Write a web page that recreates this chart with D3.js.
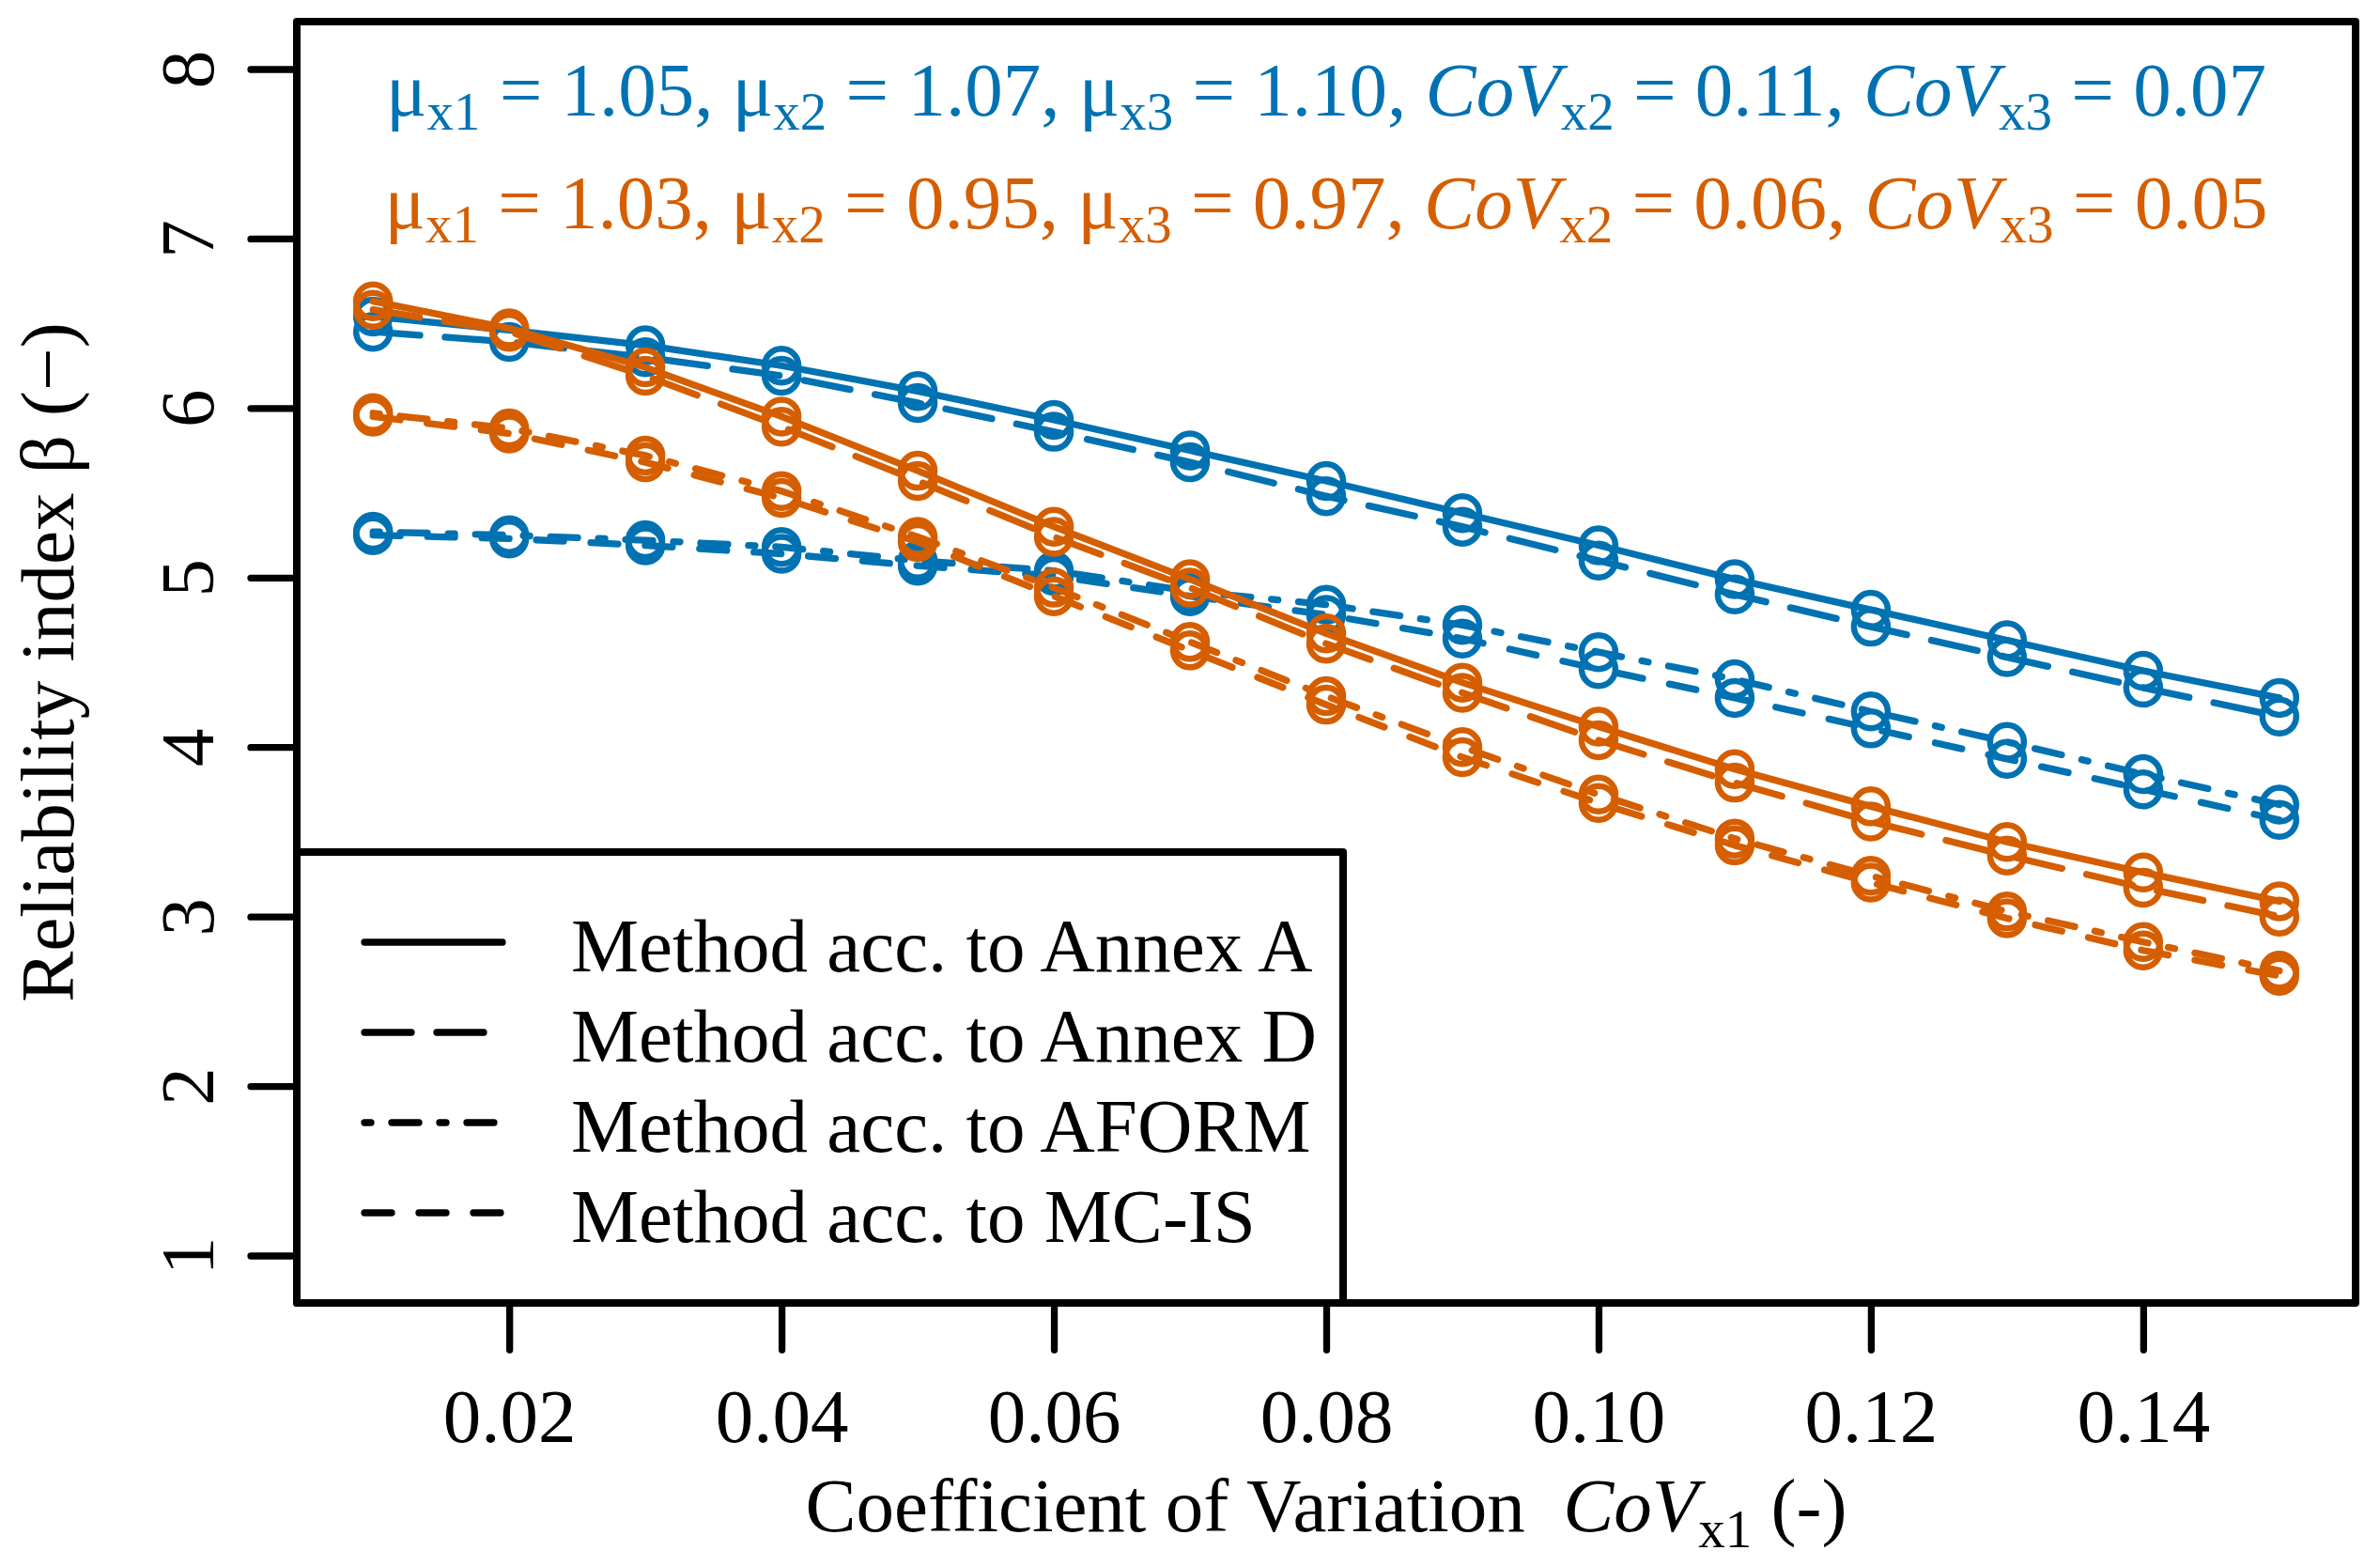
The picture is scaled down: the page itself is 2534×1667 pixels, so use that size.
<!DOCTYPE html>
<html>
<head>
<meta charset="utf-8">
<script src="https://cdn.jsdelivr.net/npm/d3@7"></script>
<style>
  html, body { margin: 0; padding: 0; background: #fff; }
  svg text { font-family: "Liberation Serif", "Times New Roman", serif; }
</style>
</head>
<body>
<svg id="chart" width="2534" height="1667"></svg>
<script>
"use strict"

// coefficient of variation of x1
var cov = [0.01, 0.02, 0.03, 0.04, 0.05, 0.06, 0.07, 0.08,
           0.09, 0.10, 0.11, 0.12, 0.13, 0.14, 0.15];

// case 1 (blue)
var blueAnnexA = [6.54, 6.46, 6.37, 6.25, 6.10, 5.93, 5.75, 5.57, 5.38, 5.19, 4.99, 4.81, 4.63, 4.45, 4.29];
var blueAnnexD = [6.45, 6.39, 6.30, 6.19, 6.03, 5.86, 5.68, 5.48, 5.30, 5.10, 4.90, 4.71, 4.53, 4.35, 4.18];
var blueAform  = [5.27, 5.25, 5.22, 5.18, 5.10, 5.04, 4.92, 4.84, 4.72, 4.56, 4.40, 4.21, 4.03, 3.84, 3.66];
var blueMcis   = [5.25, 5.23, 5.19, 5.14, 5.07, 5.01, 4.89, 4.78, 4.64, 4.46, 4.29, 4.11, 3.93, 3.75, 3.57];

// case 2 (orange)
var orangeAnnexA = [6.63, 6.47, 6.24, 5.95, 5.63, 5.30, 4.99, 4.67, 4.38, 4.12, 3.87, 3.65, 3.44, 3.26, 3.09];
var orangeAnnexD = [6.58, 6.45, 6.19, 5.89, 5.57, 5.24, 4.94, 4.61, 4.32, 4.04, 3.79, 3.56, 3.36, 3.17, 3.00];
var orangeAform  = [5.97, 5.88, 5.72, 5.51, 5.24, 4.94, 4.62, 4.30, 4.00, 3.72, 3.46, 3.24, 3.03, 2.85, 2.68];
var orangeMcis   = [5.95, 5.85, 5.68, 5.47, 5.21, 4.89, 4.57, 4.25, 3.94, 3.67, 3.42, 3.20, 2.99, 2.80, 2.65];

var methodLabels = ["Method acc. to Annex A", "Method acc. to Annex D",
                    "Method acc. to AFORM",   "Method acc. to MC-IS"];

var xTicks = [0.02, 0.04, 0.06, 0.08, 0.10, 0.12, 0.14];
var yTicks = [1, 2, 3, 4, 5, 6, 7, 8];

// [label, subscript, value] triples for the two parameter lines
var paramsBlue   = [["μ", "x1", "1.05"], ["μ", "x2", "1.07"], ["μ", "x3", "1.10"],
                    ["CoV", "x2", "0.11"], ["CoV", "x3", "0.07"]];
var paramsOrange = [["μ", "x1", "1.03"], ["μ", "x2", "0.95"], ["μ", "x3", "0.97"],
                    ["CoV", "x2", "0.06"], ["CoV", "x3", "0.05"]];

// styles
var BLUE   = "#0072B2";
var ORANGE = "#D55E00";
var LWD    = 7.3;
var FONT   = 81;
var SUB    = 57;
var dashes = [null, "50,27", "7,22,29,22", "29,29"];

var W = 2534, H = 1667;
var plot = { left: 316, right: 2508, top: 23, bottom: 1387 };

var svg = d3.select("#chart");
svg.append("rect").attr("width", W).attr("height", H).attr("fill", "#fff");

// R style ranges: data range plus 4% on each side
var x = d3.scaleLinear().domain([0.0044, 0.1556]).range([plot.left, plot.right]);
var y = d3.scaleLinear().domain([0.72, 8.28]).range([plot.bottom, plot.top]);

var series = [
    { color: BLUE,   method: 0, values: blueAnnexA },
    { color: BLUE,   method: 1, values: blueAnnexD },
    { color: BLUE,   method: 2, values: blueAform },
    { color: BLUE,   method: 3, values: blueMcis },
    { color: ORANGE, method: 0, values: orangeAnnexA },
    { color: ORANGE, method: 1, values: orangeAnnexD },
    { color: ORANGE, method: 2, values: orangeAform },
    { color: ORANGE, method: 3, values: orangeMcis }
];

var line = d3.line()
    .x(function(d, i) { return x(cov[i]); })
    .y(function(d) { return y(d); });

series.forEach(function(s) {
    var g = svg.append("g");
    g.append("path")
        .attr("d", line(s.values))
        .attr("fill", "none")
        .attr("stroke", s.color)
        .attr("stroke-width", LWD)
        .attr("stroke-linecap", "round")
        .attr("stroke-linejoin", "round")
        .attr("stroke-dasharray", dashes[s.method]);
    g.selectAll("circle").data(s.values).enter()
        .append("circle")
        .attr("cx", function(d, i) { return x(cov[i]); })
        .attr("cy", function(d) { return y(d); })
        .attr("r", 18)
        .attr("fill", "none")
        .attr("stroke", s.color)
        .attr("stroke-width", 6.5);
});

// axes
var xAxis = svg.append("g")
    .attr("transform", "translate(0," + plot.bottom + ")")
    .call(d3.axisBottom(x).tickValues(xTicks).tickSize(50)
        .tickFormat(d3.format(".2f")));
var yAxis = svg.append("g")
    .attr("transform", "translate(" + plot.left + ",0)")
    .call(d3.axisLeft(y).tickValues(yTicks).tickSize(49)
        .tickFormat(d3.format("d")));

[xAxis, yAxis].forEach(function(a) {
    a.select(".domain").remove();
    a.selectAll(".tick line")
        .attr("stroke", "#000")
        .attr("stroke-width", LWD)
        .attr("stroke-linecap", "round");
    a.selectAll(".tick text")
        .attr("fill", "#000")
        .attr("font-size", FONT)
        .attr("font-family", "Liberation Serif, serif");
});
xAxis.selectAll(".tick text").attr("y", 148).attr("dy", 0);
yAxis.selectAll(".tick text")
    .attr("x", 0).attr("dy", 0)
    .attr("text-anchor", "middle")
    .attr("transform", "translate(-89,0) rotate(-90)");

// box round the plot
svg.append("rect")
    .attr("x", plot.left).attr("y", plot.top)
    .attr("width", plot.right - plot.left)
    .attr("height", plot.bottom - plot.top)
    .attr("fill", "none")
    .attr("stroke", "#000")
    .attr("stroke-width", 8)
    .attr("stroke-linejoin", "round");

// axis titles
var xTitle = svg.append("text")
    .attr("x", (plot.left + plot.right) / 2)
    .attr("y", 1630)
    .attr("text-anchor", "middle")
    .attr("font-size", FONT);
xTitle.append("tspan").text("Coefficient of Variation\u00a0\u00a0");
xTitle.append("tspan").attr("font-style", "italic").text("CoV");
xTitle.append("tspan").attr("font-size", SUB).attr("dy", 17).text("x1");
xTitle.append("tspan").attr("dy", -17).text(" (-)");

svg.append("text")
    .attr("transform", "translate(78," + ((plot.top + plot.bottom) / 2) + ") rotate(-90)")
    .attr("text-anchor", "middle")
    .attr("font-size", FONT)
    .text("Reliability index β (−)");

// parameter lines
function paramLine(params, color, baseline) {
    var t = svg.append("text")
        .attr("x", (plot.left + plot.right) / 2)
        .attr("y", baseline)
        .attr("text-anchor", "middle")
        .attr("font-size", FONT)
        .attr("fill", color);
    params.forEach(function(p, i) {
        t.append("tspan")
            .attr("font-style", p[0] == "CoV" ? "italic" : null)
            .text(p[0]);
        t.append("tspan").attr("font-size", SUB).attr("dy", 15).text(p[1]);
        t.append("tspan").attr("dy", -15)
            .text(" = " + p[2] + (i < params.length - 1 ? ", " : ""));
    });
}
paramLine(paramsBlue,   BLUE,   123);
paramLine(paramsOrange, ORANGE, 243);

// legend
var legend = svg.append("g");
legend.append("rect")
    .attr("x", plot.left).attr("y", 907)
    .attr("width", 1430 - plot.left).attr("height", plot.bottom - 907)
    .attr("fill", "#fff")
    .attr("stroke", "#000")
    .attr("stroke-width", 8)
    .attr("stroke-linejoin", "round");
methodLabels.forEach(function(label, i) {
    var ly = 1003 + i * 96;
    legend.append("line")
        .attr("x1", 388).attr("x2", 535)
        .attr("y1", ly).attr("y2", ly)
        .attr("stroke", "#000")
        .attr("stroke-width", LWD)
        .attr("stroke-linecap", "round")
        .attr("stroke-dasharray", dashes[i]);
    legend.append("text")
        .attr("x", 608).attr("y", ly + 31)
        .attr("font-size", FONT)
        .text(label);
});
</script>
</body>
</html>
